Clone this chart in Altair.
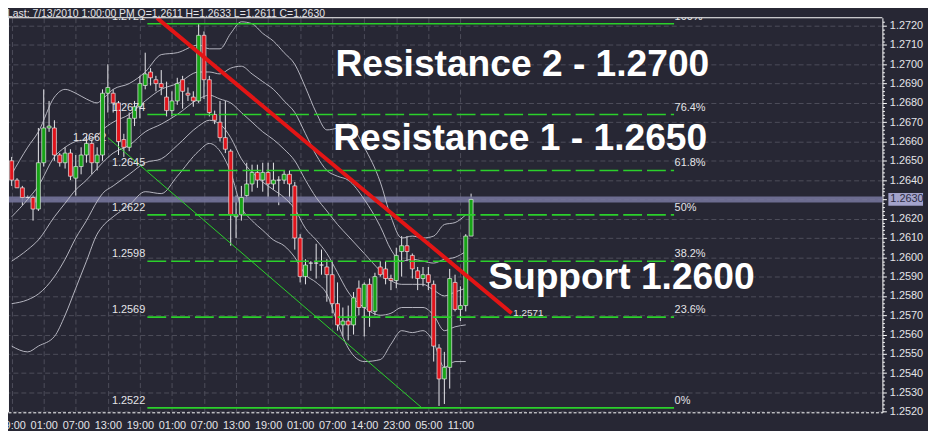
import json
import altair as alt
import pandas as pd

# ---------------- data ----------------
opens = [1.2650, 1.2640, 1.2636, 1.2631, 1.2631, 1.2625, 1.2649, 1.2667, 1.2667, 1.2653,
         1.2649, 1.2654, 1.2641, 1.2647, 1.2653, 1.2659, 1.2649, 1.2653, 1.2685, 1.2685,
         1.2680, 1.2661, 1.2657, 1.2672, 1.2678, 1.2689, 1.2696, 1.2692, 1.2690, 1.2683,
         1.2676, 1.2681, 1.2692, 1.2685, 1.2683, 1.2681, 1.2715, 1.2692, 1.2674, 1.2670,
         1.2662, 1.2655, 1.2621, 1.2622, 1.2632, 1.2638, 1.2644, 1.2640, 1.2644, 1.2638,
         1.2640, 1.2640, 1.2643, 1.2637, 1.2610, 1.2590, 1.2597, 1.2597, 1.2596, 1.2595,
         1.2591, 1.2576, 1.2565, 1.2567, 1.2565, 1.2584, 1.2574, 1.2586, 1.2572, 1.2595,
         1.2594, 1.2589, 1.2588, 1.2603, 1.2606, 1.2601, 1.2593, 1.2589, 1.2591, 1.2586,
         1.2553, 1.2537, 1.2543, 1.2587, 1.2573, 1.2575, 1.2611]
highs = [1.2652, 1.2641, 1.2637, 1.2632, 1.2632, 1.2667, 1.2687, 1.2681, 1.2671, 1.2654,
         1.2657, 1.2656, 1.2653, 1.2657, 1.2663, 1.2661, 1.2657, 1.2687, 1.2700, 1.2687,
         1.2681, 1.2664, 1.2675, 1.2681, 1.2694, 1.2706, 1.2698, 1.2694, 1.2697, 1.2691,
         1.2686, 1.2693, 1.2694, 1.2688, 1.2686, 1.2721, 1.2717, 1.2694, 1.2676, 1.2681,
         1.2681, 1.2656, 1.2632, 1.2637, 1.2649, 1.2648, 1.2648, 1.2649, 1.2649, 1.2649,
         1.2642, 1.2645, 1.2645, 1.2639, 1.2612, 1.2599, 1.2598, 1.2607, 1.2604, 1.2599,
         1.2598, 1.2587, 1.2574, 1.2575, 1.2582, 1.2588, 1.2587, 1.2589, 1.2592, 1.2598,
         1.2598, 1.2591, 1.2605, 1.2611, 1.2611, 1.2602, 1.2595, 1.2595, 1.2595, 1.2588,
         1.2555, 1.2551, 1.2594, 1.2591, 1.2585, 1.2612, 1.2633]
lows = [1.2637, 1.2636, 1.2627, 1.2630, 1.2619, 1.2624, 1.2647, 1.2665, 1.2650, 1.2647,
        1.2646, 1.2640, 1.2632, 1.2643, 1.2649, 1.2643, 1.2645, 1.2650, 1.2675, 1.2675,
        1.2653, 1.2652, 1.2655, 1.2668, 1.2672, 1.2687, 1.2689, 1.2686, 1.2684, 1.2673,
        1.2673, 1.2679, 1.2677, 1.2681, 1.2678, 1.2680, 1.2682, 1.2673, 1.2669, 1.2660,
        1.2654, 1.2606, 1.2610, 1.2619, 1.2630, 1.2634, 1.2636, 1.2634, 1.2630, 1.2635,
        1.2627, 1.2638, 1.2628, 1.2604, 1.2587, 1.2586, 1.2593, 1.2589, 1.2591, 1.2577,
        1.2571, 1.2562, 1.2559, 1.2557, 1.2560, 1.2570, 1.2559, 1.2564, 1.2570, 1.2590,
        1.2586, 1.2583, 1.2584, 1.2590, 1.2598, 1.2589, 1.2583, 1.2585, 1.2583, 1.2546,
        1.2523, 1.2524, 1.2532, 1.2572, 1.2567, 1.2572, 1.2611]
closes = [1.2640, 1.2636, 1.2631, 1.2631, 1.2625, 1.2649, 1.2667, 1.2668, 1.2653, 1.2649,
          1.2654, 1.2642, 1.2647, 1.2653, 1.2659, 1.2649, 1.2653, 1.2685, 1.2688, 1.2680,
          1.2660, 1.2657, 1.2672, 1.2678, 1.2690, 1.2695, 1.2693, 1.2690, 1.2688, 1.2676,
          1.2681, 1.2690, 1.2686, 1.2684, 1.2681, 1.2715, 1.2692, 1.2675, 1.2671, 1.2662,
          1.2656, 1.2622, 1.2622, 1.2631, 1.2638, 1.2644, 1.2640, 1.2644, 1.2638, 1.2640,
          1.2640, 1.2643, 1.2638, 1.2610, 1.2590, 1.2596, 1.2597, 1.2597, 1.2596, 1.2591,
          1.2576, 1.2565, 1.2567, 1.2565, 1.2579, 1.2574, 1.2586, 1.2572, 1.2590, 1.2591,
          1.2589, 1.2588, 1.2601, 1.2606, 1.2603, 1.2594, 1.2589, 1.2591, 1.2587, 1.2554,
          1.2537, 1.2543, 1.2589, 1.2573, 1.2575, 1.2611, 1.2630]

time_labels = ["19:00", "01:00", "07:00", "13:00", "19:00", "01:00", "07:00", "13:00",
               "19:00", "01:00", "07:00", "14:00", "23:00", "05:00", "11:00"]

# Bollinger envelope lines (sampled by eye)
band_idx = [0, 3, 5, 8, 10, 12, 14, 16, 17, 19, 22, 25, 28, 31, 35, 37, 39, 41, 43, 45,
            47, 49, 51, 53, 55, 57, 59, 61, 63, 66, 69, 71, 73, 75, 77, 79, 81, 83, 85]
band_upper2 = [1.2643, 1.2657, 1.2665, 1.2683, 1.2687, 1.2685, 1.2682, 1.2680, 1.2682, 1.2687,
               1.2690, 1.2696, 1.2705, 1.2706, 1.2710, 1.2708, 1.2708, 1.2716, 1.2722, 1.2721,
               1.2716, 1.2712, 1.2706, 1.2700, 1.2688, 1.2675, 1.2666, 1.2667, 1.2669, 1.2657,
               1.2639, 1.2621, 1.2610, 1.2611, 1.2610, 1.2611, 1.2617, 1.2618, 1.2622]
band_upper1 = [1.2621, 1.2630, 1.2637, 1.2652, 1.2657, 1.2660, 1.2661, 1.2663, 1.2666, 1.2670,
               1.2674, 1.2681, 1.2687, 1.2690, 1.2696, 1.2696, 1.2695, 1.2698, 1.2699, 1.2695,
               1.2691, 1.2687, 1.2681, 1.2675, 1.2664, 1.2653, 1.2645, 1.2642, 1.2640, 1.2630,
               1.2616, 1.2604, 1.2598, 1.2599, 1.2598, 1.2597, 1.2599, 1.2600, 1.2603]
band_mid = [1.2598, 1.2604, 1.2609, 1.2621, 1.2628, 1.2635, 1.2640, 1.2646, 1.2649, 1.2654,
            1.2658, 1.2665, 1.2669, 1.2674, 1.2682, 1.2684, 1.2682, 1.2680, 1.2675, 1.2670,
            1.2665, 1.2661, 1.2656, 1.2650, 1.2640, 1.2631, 1.2624, 1.2617, 1.2611, 1.2602,
            1.2593, 1.2588, 1.2586, 1.2586, 1.2586, 1.2583, 1.2580, 1.2582, 1.2584]
band_lower1 = [1.2576, 1.2578, 1.2581, 1.2590, 1.2599, 1.2610, 1.2619, 1.2629, 1.2633, 1.2637,
               1.2643, 1.2649, 1.2651, 1.2658, 1.2668, 1.2671, 1.2669, 1.2662, 1.2651, 1.2644,
               1.2639, 1.2635, 1.2631, 1.2625, 1.2615, 1.2609, 1.2602, 1.2592, 1.2582, 1.2574,
               1.2570, 1.2571, 1.2574, 1.2574, 1.2574, 1.2570, 1.2562, 1.2564, 1.2565]
band_lower2 = [1.2554, 1.2551, 1.2554, 1.2559, 1.2570, 1.2584, 1.2598, 1.2612, 1.2616, 1.2621,
               1.2627, 1.2634, 1.2633, 1.2642, 1.2655, 1.2659, 1.2655, 1.2644, 1.2626, 1.2619,
               1.2614, 1.2609, 1.2606, 1.2600, 1.2591, 1.2587, 1.2581, 1.2566, 1.2553, 1.2546,
               1.2547, 1.2555, 1.2562, 1.2561, 1.2562, 1.2556, 1.2543, 1.2546, 1.2546]

fib_levels = [1.2721, 1.2674, 1.2645, 1.2622, 1.2598, 1.2569, 1.2522]
fib_price_labels = ["1.2721", "1.2674", "1.2645", "1.2622", "1.2598", "1.2569", "1.2522"]
fib_pct_labels = ["100%", "76.4%", "61.8%", "50%", "38.2%", "23.6%", "0%"]
fib_kind = ["solid", "dash", "dash", "dash", "dash", "dash", "solid"]

green_trend_idx = [18.0, 76.8]
green_trend_price = [1.2662, 1.2522]
red_trend_idx = [27.2, 93.6]
red_trend_price = [1.2724, 1.2571]

header_text = "Last: 7/13/2010 1:00:00 PM O=1.2611 H=1.2633 L=1.2611 C=1.2630"
annotations = ["Resistance 2 - 1.2700", "Resistance 1 - 1.2650", "Support 1.2600"]
last_price = 1.2630

# ---------------- tables ----------------
candles = pd.DataFrame({"i": list(range(len(opens))), "open": opens, "high": highs,
                        "low": lows, "close": closes})
candles["dir"] = ["up" if c >= o else "down" for o, c in zip(opens, closes)]

band_rows = []
for name, vals in [("u2", band_upper2), ("u1", band_upper1), ("m", band_mid),
                   ("l1", band_lower1), ("l2", band_lower2)]:
    for i, v in zip(band_idx, vals):
        band_rows.append({"i": i, "v": v, "band": name})
bands = pd.DataFrame(band_rows)

fib = pd.DataFrame({"level": fib_levels, "plabel": fib_price_labels,
                    "pct": fib_pct_labels, "kind": fib_kind})
green_trend = pd.DataFrame({"i": green_trend_idx, "p": green_trend_price})
red_trend = pd.DataFrame({"i": red_trend_idx, "p": red_trend_price})

# ---------------- styling ----------------
BG = "#272734"
GRID = "#4d4d5a"
TXT = "#e4e4e8"
FONT = "Liberation Sans"
GREEN = "#2bd02b"

W, H = 882, 398
xs = alt.Scale(domain=[0.24, 162.07], nice=False, zero=False)
ys = alt.Scale(domain=[1.25197, 1.27241], nice=False, zero=False)

major_test = "abs(datum.value*1000 - round(datum.value*1000)) < 0.05"
y_ticks = [round(1.2520 + 0.0002 * k, 4) for k in range(0, 102)]

x_axis = alt.Axis(values=list(range(0, 85, 6)),
                  labelExpr=json.dumps(time_labels) + "[round(datum.value/6)]",
                  grid=True, gridColor=GRID, gridDash=[5, 3], gridWidth=1,
                  domainColor="#ffffff", domainDash=[3, 2], domainWidth=1,
                  ticks=False, labelPadding=7, labelColor=TXT, labelFontSize=11,
                  labelFont=FONT, labelOverlap=False, labelBound=False,
                  labelFlush=False, title=None)
y_axis = alt.Axis(orient="right", values=y_ticks,
                  labelExpr=major_test + " && abs(datum.value - 1.263) > 0.00005 ? format(datum.value, '.4f') : ''",
                  grid=True, gridColor=GRID, gridDash=[5, 3], gridWidth=1,
                  gridOpacity={"condition": {"test": major_test, "value": 1}, "value": 0},
                  tickSize={"condition": {"test": major_test, "value": 4}, "value": 2},
                  tickColor="#ffffff", domainColor="#ffffff", domainWidth=1,
                  labelPadding=3, labelColor=TXT, labelFontSize=11, labelFont=FONT,
                  labelOverlap=False, labelBound=False, labelFlush=False, title=None)


def X(field):
    return alt.X(field, scale=xs, axis=x_axis)


def Y(field):
    return alt.Y(field, scale=ys, axis=y_axis)


def XD(v):
    return alt.XDatum(v, scale=xs, axis=x_axis)


def YD(v):
    return alt.YDatum(v, scale=ys, axis=y_axis)


# highlight band at the last price
hl = alt.Chart(pd.DataFrame({"p": [last_price]})).mark_rule(
    color="#74749a", strokeWidth=6, opacity=0.9).encode(
    x=alt.value(0), x2=alt.value(W), y=Y("p:Q"))

band_layer = alt.Chart(bands).mark_line(
    color="#c6c6d0", strokeWidth=0.9, interpolate="monotone", clip=True).encode(
    x=X("i:Q"), y=Y("v:Q"), detail="band:N")

wicks = alt.Chart(candles).mark_rule(color="#e8e8ec", strokeWidth=1, clip=True).encode(
    x=X("i:Q"), y=Y("low:Q"), y2="high:Q")

bodies = alt.Chart(candles).mark_bar(size=4, stroke="#e6e6e6", strokeWidth=0.7, clip=True).encode(
    x=X("i:Q"), y=Y("open:Q"), y2="close:Q",
    color=alt.Color("dir:N", scale=alt.Scale(domain=["up", "down"],
                                             range=["#17a317", "#e0141c"]), legend=None))

fib_lines = alt.Chart(fib).mark_rule(color=GREEN, strokeWidth=1.6, clip=True).encode(
    x=XD(25.4), x2=alt.datum(124.0), y=Y("level:Q"),
    strokeDash=alt.StrokeDash("kind:N", scale=alt.Scale(domain=["solid", "dash"],
                                                        range=[[1, 0], [19, 5]]), legend=None))

fib_left = alt.Chart(fib).mark_text(align="right", baseline="middle", dy=-7, color=TXT,
                                    fontSize=11, font=FONT, clip=True).encode(
    x=XD(25.0), y=Y("level:Q"), text="plabel:N")

fib_right = alt.Chart(fib).mark_text(align="left", baseline="middle", dy=-7, color=TXT,
                                     fontSize=11, font=FONT, clip=True).encode(
    x=XD(124.1), y=Y("level:Q"), text="pct:N")

green_line = alt.Chart(green_trend).mark_line(color=GREEN, strokeWidth=1, clip=True).encode(
    x=X("i:Q"), y=Y("p:Q"))
green_label = alt.Chart(pd.DataFrame({"t": [f"{green_trend_price[0]:.4f}"]})).mark_text(
    align="right", baseline="middle", color=TXT, fontSize=11, font=FONT).encode(
    x=XD(17.7), y=YD(green_trend_price[0]), text="t:N")

red_line = alt.Chart(red_trend).mark_line(color="#e31515", strokeWidth=4, clip=True).encode(
    x=X("i:Q"), y=Y("p:Q"))
red_label = alt.Chart(pd.DataFrame({"t": [f"{red_trend_price[1]:.4f}"]})).mark_text(
    align="left", baseline="middle", color=TXT, fontSize=10, font=FONT).encode(
    x=XD(93.9), y=YD(red_trend_price[1]), text="t:N")


def big_text(txt, xi, yp):
    return alt.Chart(pd.DataFrame({"t": [txt]})).mark_text(
        align="left", baseline="alphabetic", color="#ffffff", fontSize=37.5,
        fontWeight="bold", font=FONT).encode(x=XD(xi), y=YD(yp), text="t:N")


ann1 = big_text(annotations[0], 60.6, 1.26938)
ann2 = big_text(annotations[1], 60.2, 1.26558)
ann3 = big_text(annotations[2], 89.2, 1.25834)

header = alt.Chart(pd.DataFrame({"t": [header_text]})).mark_text(
    align="left", baseline="alphabetic", color=TXT, fontSize=10.5, font=FONT).encode(
    x=alt.value(-1), y=alt.value(-0.5), text="t:N")

# top and left frame lines
frame_top = alt.Chart(pd.DataFrame({"k": ["top"]})).mark_rule(color="#ffffff", strokeWidth=1).encode(
    x=alt.value(0), x2=alt.value(W), y=alt.value(0))
frame_left = alt.Chart(pd.DataFrame({"k": ["left"]})).mark_rule(color="#ffffff", strokeWidth=1).encode(
    x=alt.value(0.5), y=alt.value(0), y2=alt.value(H))

price_box = alt.Chart(pd.DataFrame({"p": [last_price]})).mark_rule(
    color="#a3a3cc", strokeWidth=13).encode(
    x=alt.value(W + 6), x2=alt.value(W + 41), y=Y("p:Q"))
price_txt = alt.Chart(pd.DataFrame({"p": [last_price], "t": [f"{last_price:.4f}"]})).mark_text(
    align="left", baseline="middle", color="#2c2c44", fontSize=11, font=FONT).encode(
    x=alt.value(W + 8), y=Y("p:Q"), text="t:N")

chart = alt.layer(
    wicks, hl, band_layer, green_line, green_label, bodies, fib_lines, fib_left, fib_right,
    red_line, red_label, ann1, ann2, ann3, header, frame_top, frame_left, price_box, price_txt
).properties(
    width=W, height=H,
    padding={"left": 0, "top": 8, "right": 46, "bottom": 17},
    autosize=alt.AutoSizeParams(type="none"),
).configure(background=BG).configure_view(stroke=None)

chart.save("out.html", embed_options={"renderer": "svg", "actions": False})
